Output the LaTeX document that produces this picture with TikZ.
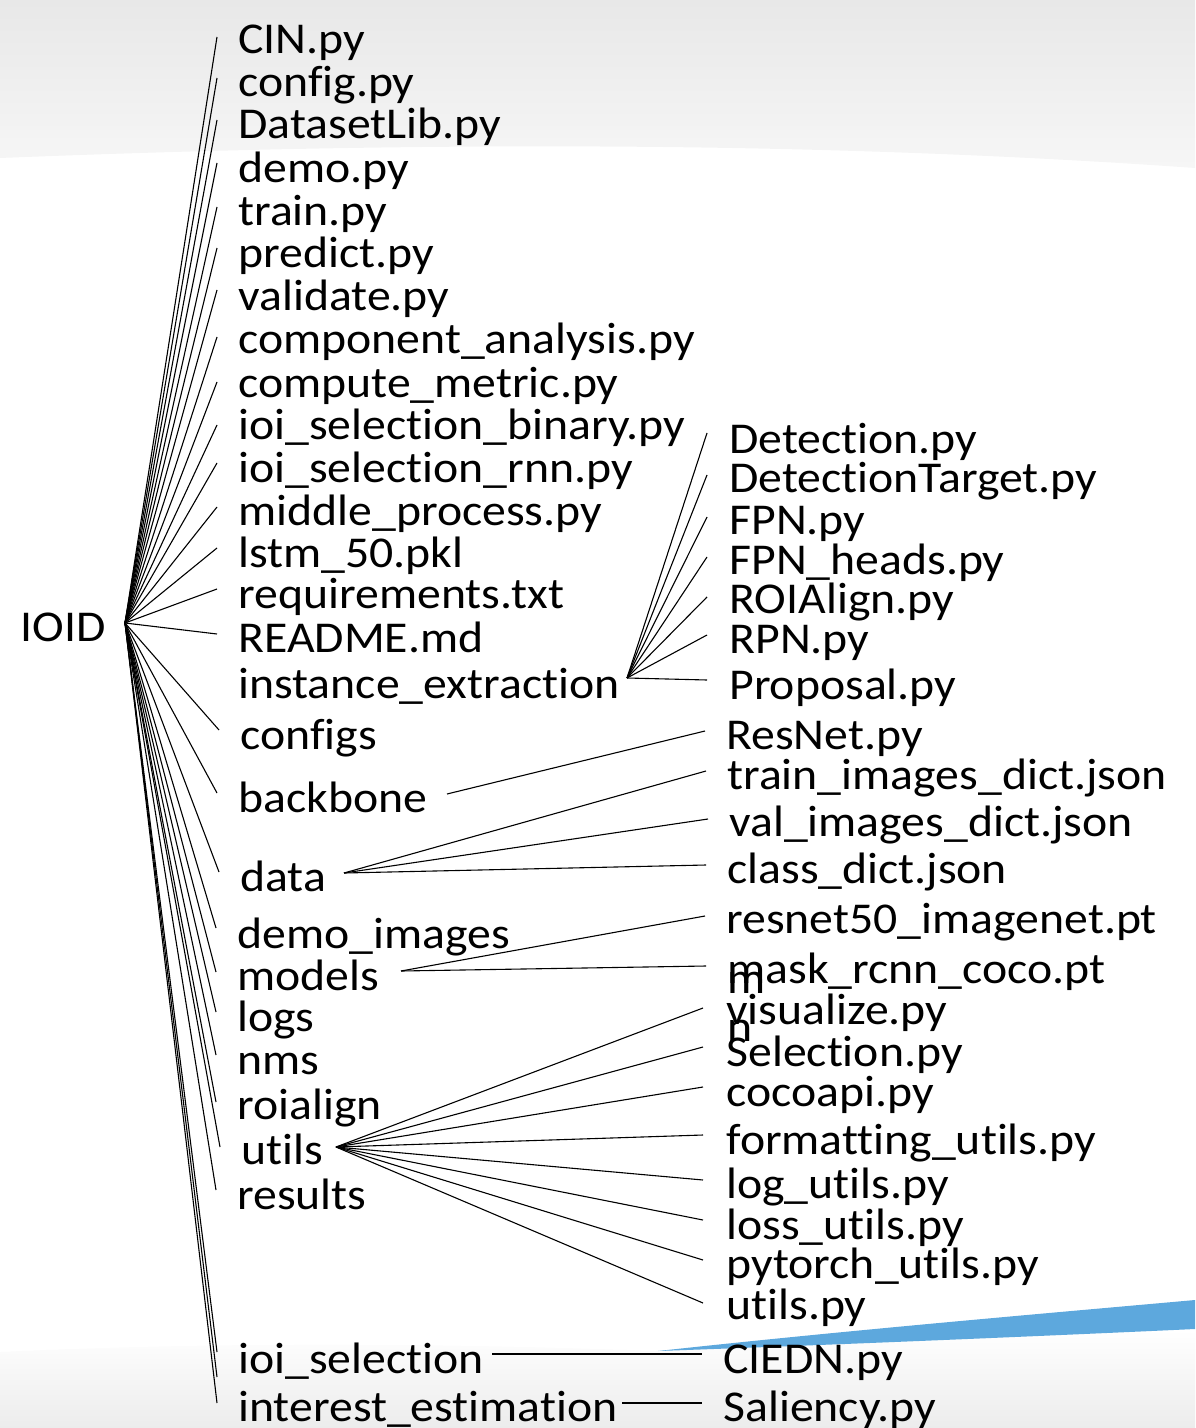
\documentclass[tikz,border=0pt]{standalone}
\usepackage{fontspec}
\setmainfont{Carlito}[Ligatures={NoCommon}]
\usepackage{graphicx}
\newcommand\tx[1]{\scalebox{1.085}[1]{#1}}
\definecolor{swoosh}{RGB}{93,168,221}
\definecolor{bgtop}{RGB}{232,232,232}
\definecolor{bgmid}{RGB}{246,246,246}
\definecolor{bgbot}{RGB}{236,236,236}
\begin{document}
\begin{tikzpicture}[x=0.5pt,y=-0.5pt,
  lbl/.style={anchor=base west,inner sep=0pt,text height=18pt,text depth=0pt,
    font=\fontsize{22pt}{22pt}\selectfont},
  conn/.style={line width=0.55pt,black}]
\useasboundingbox (0,0) rectangle (1195,1428);
% background
\shade[top color=bgtop,bottom color=bgmid] (0,0) -- (1195,0) -- (1195,168)
  .. controls (800,140) and (400,142) .. (0,158) -- cycle;
\shade[top color=white,bottom color=bgbot] (0,1352) .. controls (250,1340) and (500,1345) .. (655,1351)
  -- (1195,1330) -- (1195,1428) -- (0,1428) -- cycle;
\fill[swoosh] (658,1351) .. controls (850,1330) and (1050,1313) .. (1195,1300)
  -- (1195,1329) .. controls (1000,1338) and (800,1346) .. (658,1351) -- cycle;

% root
\node[lbl] (ioid) at (20,641) {\tx{IOID}};
% left column
\node[lbl] (cin) at (238,54) {\tx{CIN.py}};
\node[lbl] (cfg) at (238,97) {\tx{config.py}};
\node[lbl] (dsl) at (238,139) {\tx{DatasetLib.py}};
\node[lbl] (demo) at (238,183) {\tx{demo.py}};
\node[lbl] (train) at (238,226) {\tx{train.py}};
\node[lbl] (pred) at (238,268) {\tx{predict.py}};
\node[lbl] (val) at (238,311) {\tx{validate.py}};
\node[lbl] (comp) at (238,354) {\tx{component\_analysis.py}};
\node[lbl] (cmet) at (238,397) {\tx{compute\_metric.py}};
\node[lbl] (ioib) at (238,439) {\tx{ioi\_selection\_binary.py}};
\node[lbl] (ioir) at (238,482) {\tx{ioi\_selection\_rnn.py}};
\node[lbl] (mid) at (238,525) {\tx{middle\_process.py}};
\node[lbl] (lstm) at (238,567) {\tx{lstm\_50.pkl}};
\node[lbl] (req) at (238,608) {\tx{requirements.txt}};
\node[lbl] (readme) at (238,652) {\tx{README.md}};
\node[lbl] (inst) at (238,698) {\tx{instance\_extraction}};
\node[lbl] (cfgs) at (240,749) {\tx{configs}};
\node[lbl] (bb) at (238,812) {\tx{backbone}};
\node[lbl] (data) at (240,891) {\tx{data}};
\node[lbl] (dimg) at (237,948) {\tx{demo\_images}};
\node[lbl] (models) at (237,990) {\tx{models}};
\node[lbl] (logs) at (237,1031) {\tx{logs}};
\node[lbl] (nms) at (237,1074) {\tx{nms}};
\node[lbl] (roi) at (237,1119) {\tx{roialign}};
\node[lbl] (utils) at (241,1164) {\tx{utils}};
\node[lbl] (res) at (237,1209) {\tx{results}};
\node[lbl] (ioisel) at (238,1373) {\tx{ioi\_selection}};
\coordinate (blank) at (217,1377);
\node[lbl] (interest) at (238,1421) {\tx{interest\_estimation}};

\foreach \n/\dy in {cin/-17,cfg/-19,dsl/-19,demo/-20,train/-19,pred/-20,val/-21,
    comp/-17,cmet/-15,ioib/-14,ioir/-19,mid/-18,lstm/-19,req/-19,readme/-18,
    cfgs/-19,bb/-19,data/-19,dimg/-20,models/-18,logs/-19,nms/-19,roi/-17,
    utils/-17,res/-19,ioisel/-21,interest/-18}
  \draw[conn] ([shift={(105,-18)}]ioid.base west) -- ([shift={(-21,\dy)}]\n.base west);
\draw[conn] ([shift={(105,-18)}]ioid.base west) -- (blank);

% instance_extraction
\node[lbl] (det) at (729,453) {\tx{Detection.py}};
\node[lbl] (dett) at (729,492) {\tx{DetectionTarget.py}};
\node[lbl] (fpn) at (729,534) {\tx{FPN.py}};
\node[lbl] (fpnh) at (729,574) {\tx{FPN\_heads.py}};
\node[lbl] (roial) at (729,613) {\tx{ROIAlign.py}};
\node[lbl] (rpn) at (729,653) {\tx{RPN.py}};
\node[lbl] (prop) at (729,699) {\tx{Proposal.py}};
\foreach \n/\dy in {det/-20,dett/-17,fpn/-17,fpnh/-17,roial/-16,rpn/-18,prop/-19}
  \draw[conn] ([shift={(389,-20)}]inst.base west) -- ([shift={(-22,\dy)}]\n.base west);

% backbone
\node[lbl] (resnet) at (726,749) {\tx{ResNet.py}};
\draw[conn] ([shift={(209,-18)}]bb.base west) -- ([shift={(-21,-18)}]resnet.base west);

% data
\node[lbl] (tri) at (727,789) {\tx{train\_images\_dict.json}};
\node[lbl] (vai) at (729,836) {\tx{val\_images\_dict.json}};
\node[lbl] (cld) at (727,883) {\tx{class\_dict.json}};
\foreach \n/\dy in {tri/-18,vai/-17,cld/-18}
  \draw[conn] ([shift={(104,-18)}]data.base west) -- ([shift={(-21,\dy)}]\n.base west);

% models
\node[lbl] (r50) at (726,933) {\tx{resnet50\_imagenet.pt}};
\node[lbl] (mrc) at (727,983) {\tx{mask\_rcnn\_coco.pt}};
\node[lbl] (strm) at (727,993) {\tx{m}};
\foreach \n/\dy in {r50/-17,mrc/-17}
  \draw[conn] ([shift={(164,-19)}]models.base west) -- ([shift={(-21,\dy)}]\n.base west);

% utils
\node[lbl] (vis) at (726,1024) {\tx{visualize.py}};
\node[lbl] (strn) at (727,1041) {\tx{n}};
\node[lbl] (sel) at (726,1066) {\tx{Selection.py}};
\node[lbl] (coco) at (726,1106) {\tx{cocoapi.py}};
\node[lbl] (fmt) at (726,1154) {\tx{formatting\_utils.py}};
\node[lbl] (logu) at (726,1198) {\tx{log\_utils.py}};
\node[lbl] (lossu) at (726,1239) {\tx{loss\_utils.py}};
\node[lbl] (ptu) at (726,1278) {\tx{pytorch\_utils.py}};
\node[lbl] (utpy) at (726,1319) {\tx{utils.py}};
\foreach \n/\dy in {vis/-16,sel/-19,coco/-19,fmt/-19,logu/-18,lossu/-19,ptu/-18,utpy/-16}
  \draw[conn] ([shift={(95,-17)}]utils.base west) -- ([shift={(-23,\dy)}]\n.base west);

% ioi_selection, interest_estimation
\node[lbl] (ciedn) at (723,1373) {\tx{CIEDN.py}};
\node[lbl] (sal) at (723,1421) {\tx{Saliency.py}};
\draw[conn] ([shift={(254,-19)}]ioisel.base west) -- ([shift={(-21,-19)}]ciedn.base west);
\draw[conn] ([shift={(384,-18)}]interest.base west) -- ([shift={(-21,-18)}]sal.base west);
\end{tikzpicture}
\end{document}
